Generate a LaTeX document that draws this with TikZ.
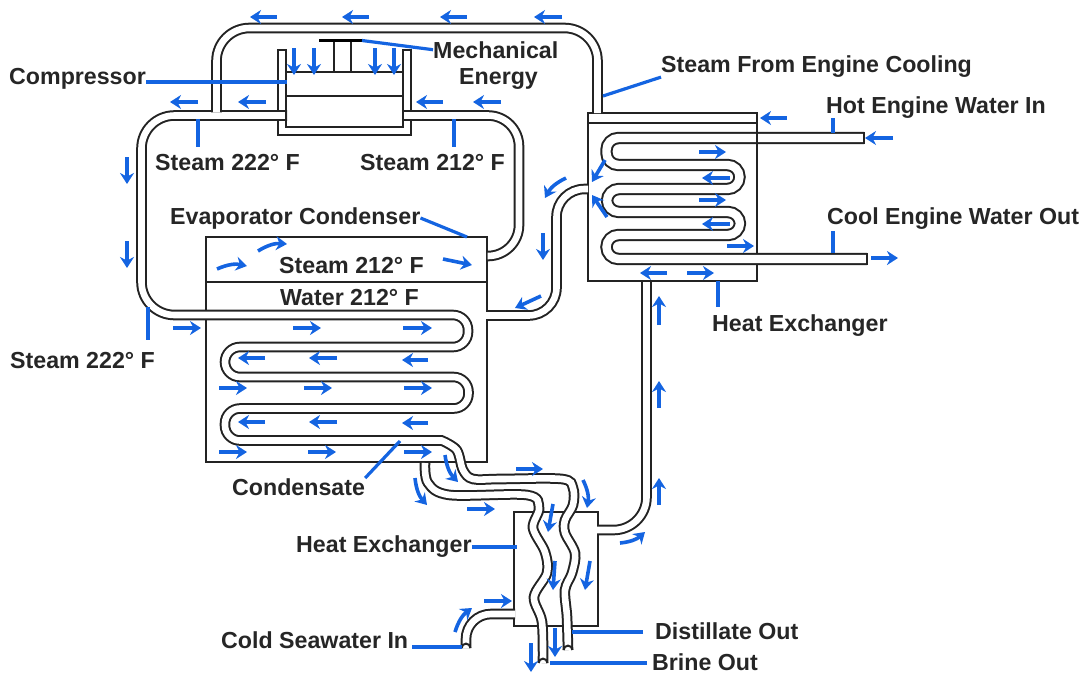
\documentclass[tikz,border=0pt]{standalone}
\usepackage{fontspec}
\setmainfont{Liberation Sans}
\usetikzlibrary{arrows.meta,positioning,calc}
\definecolor{flowblue}{RGB}{20,100,225}
\definecolor{wallgray}{RGB}{35,35,35}
\definecolor{textgray}{RGB}{38,38,38}
\tikzset{
  wall/.style={draw=wallgray,line width=2pt},
  pipe/.style={draw=wallgray,line width=2pt,double=white,double distance=6.6pt},
  coilpipe/.style={draw=wallgray,line width=2pt,double=white,double distance=8.4pt},
  flow/.style={draw=flowblue,line width=3.6pt,-{Stealth[length=11pt,width=14pt]}},
  leader/.style={draw=flowblue,line width=3.2pt},
  partname/.style={font=\fontsize{23.2}{26}\selectfont\bfseries,text=textgray,inner sep=0pt,anchor=base west}
}
\begin{document}
\begin{tikzpicture}[x=1pt,y=-1pt]
\useasboundingbox (0,0) rectangle (1086,673);
\draw[wall] (206,237) rectangle (487,462);
\draw[wall] (206,282)--(487,282);
\draw[wall] (588,113) rectangle (757,281);
\draw[wall] (588,123)--(757,123);
\draw[wall] (514,512) rectangle (598,626);
\draw[wall] (278,135)--(278,50)--(286,50)--(286,127)--(403,127)--(403,50)--(411,50)--(411,135)--cycle;
\draw[wall] (286,71.5)--(403,71.5);
\draw[wall] (334,41)--(334,71.5);
\draw[wall] (351,41)--(351,71.5);
\draw[draw=black,line width=3.2pt] (319,40.5)--(362,40.5);
\draw[pipe] (287,115.5)[rounded corners=33pt]--(141.5,115.5)--(141.5,315)--(300,315)[rounded corners=15pt]--(468,315)--(468,347)--(225,347)--(225,377)--(468.5,377)--(468.5,408.5)--(225,408.5)--(225,440.5)--(420,440.5)[sharp corners]--plot[smooth,tension=.55] coordinates {(441.7,440.5)(456.7,450)(463,470)(473,479)(500,479)(562,479)(573,488)(573,505)(565,520)(565,533)(575,553)(572,573)(565,590)(567,617)(568,650)};
\draw[wall] (563.6,650) arc (180:360:4.4);
\draw[pipe] (402,115.5)[rounded corners=31pt]--(519,115.5)--(519,256)--(487.5,256);
\draw[pipe] (216.5,112.4)[rounded corners=33pt]--(216.5,28)--(597.5,28)--(597.5,113);
\draw[pipe] (486,315.5)[rounded corners=28pt]--(556.5,315.5)--(556.5,189)--(588,189);
\draw[pipe] (646.5,282)[rounded corners=33pt]--(646.5,530)--(597,530);
\draw[pipe] plot[smooth,tension=.55] coordinates {(425,463)(428,483)(450,495)(527,495)(539,508)(533,528)(545,552)(547,573)(534,597)(542,622)(543,663)};
\draw[wall] (538.6,663) arc (180:360:4.4);
\draw[pipe] (515,614)[rounded corners=25pt]--(466,614)--(466,648);
\draw[wall] (461.6,648) arc (180:360:4.4);
\draw[coilpipe] (864,138)[rounded corners=12pt]--(606.5,138)--(606.5,165)--(739.5,165)--(739.5,189)--(607,189)--(607,212)--(740,212)--(740,235)--(606.5,235)--(606.5,259)--(867,259);
\draw[wall] (864,132)--(864,144);
\draw[wall] (867,253)--(867,265);
\draw[wall] (757,131)--(757,145);
\draw[wall] (286,96) rectangle (403,127);

\node[partname] (mechanical) at (433,58) {Mechanical};
\node[partname] (energy) at (459,84) {Energy};
\node[partname] (compressor) at (9,84) {Compressor};
\node[partname] (steamhot) at (155,170) {Steam 222° F};
\node[partname] (steamcool) at (360,170) {Steam 212° F};
\node[partname] (enginecool) at (661,72) {Steam From Engine Cooling};
\node[partname] (hotwater) at (826,113) {Hot Engine Water In};
\node[partname] (coolwater) at (827,224) {Cool Engine Water Out};
\node[partname] (evaporator) at (170,224) {Evaporator Condenser};
\node[partname] (steamtank) at (279,273) {Steam 212° F};
\node[partname] (watertank) at (280,305) {Water 212° F};
\node[partname] (steamout) at (10,368) {Steam 222° F};
\node[partname] (hxupper) at (712,331) {Heat Exchanger};
\node[partname] (condensate) at (232,495) {Condensate};
\node[partname] (hxlower) at (296,552) {Heat Exchanger};
\node[partname] (seawater) at (221,648) {Cold Seawater In};
\node[partname] (distillate) at (655,639) {Distillate Out};
\node[partname] (brine) at (652,670) {Brine Out};

\coordinate (pistontop) at (362,40.5);
\coordinate (compin) at (287,82);
\coordinate (hotpt) at (198,119);
\coordinate (coolpt) at (454,119);
\coordinate (pipetop) at (603,96);
\coordinate (hotin) at (833,133);
\coordinate (coolout) at (833,253);
\coordinate (evaptop) at (467,237);
\coordinate (loopleft) at (148,307);
\coordinate (hxbottom) at (718,281);
\coordinate (coilend) at (400,441);
\coordinate (hxwall) at (517,547);
\coordinate (seaend) at (462,647);
\coordinate (distend) at (572,632);
\coordinate (brinend) at (550,663);
\draw[leader] (mechanical.west)--(pistontop);
\draw[leader] (compressor.east |- compin)--(compin);
\draw[leader] ([yshift=7pt]steamhot.north -| hotpt)--(hotpt);
\draw[leader] ([yshift=7pt]steamcool.north -| coolpt)--(coolpt);
\draw[leader] (enginecool.south west)--(pipetop);
\draw[leader] (hotwater.south -| hotin)--(hotin);
\draw[leader] ([yshift=-2pt]coolwater.south -| coolout)--(coolout);
\draw[leader] (evaporator.east)--(evaptop);
\draw[leader] ([yshift=12pt]steamout.north -| loopleft)--(loopleft);
\draw[leader] ([yshift=7pt]hxupper.north -| hxbottom)--(hxbottom);
\draw[leader] (condensate.north east)--(coilend);
\draw[leader] (hxlower.east |- hxwall)--(hxwall);
\draw[leader] ([xshift=4pt]seawater.east |- seaend)--(seaend);
\draw[leader] ([xshift=-12pt]distillate.west |- distend)--(distend);
\draw[leader] ([xshift=-5pt]brine.west |- brinend)--(brinend);

\foreach \xa/\ya/\xb/\yb in {277/17/250/17,369/17/342/17,467/17/440/17,562/17/534/17,
  198/102/170/102,266/102/238/102,443/102/416/102,501/102/473/102,
  787/118/760/118,893/138/865/138,730/178/702/178,730/224/702/224,667/273/640/273,687/273/714/273,
  699/152/726/152,699/200/726/200,727/246/754/246,871/258/898/258,
  173/328/201/328,293/328/321/328,403/328/432/328,265/358/238/358,337/358/309/358,428/360/402/360,
  219/388/247/388,304/388/332/388,404/388/432/388,265/422/238/422,337/422/309/422,428/423/402/423,
  219/452/247/452,308/452/336/452,404/452/432/452,443/259/472/265,
  127/157/127/184,127/241/127/268,294/48/294/75,314/48/314/75,375/48/375/75,394/48/394/75,
  605/160/592/182,607/217/592/195,543/233/543/260,541/296/515/308,
  659/325/659/296,659/408/659/381,659/505/659/478,467/509/495/509,516/469/543/469,484/601/512/601,
  553/504/548/532,555/561/553/590,590/561/585/590,555/628/555/657,531/643/531/672}
  \draw[flow] (\xa,\ya)--(\xb,\yb);
\foreach \xa/\ya/\xb/\yb in {217/269/247/266,258/251/287/244,583/480/587/508,455/632/472/608}
  \draw[flow] (\xa,\ya) to[bend left=18] (\xb,\yb);
\foreach \xa/\ya/\xb/\yb in {566/178/545/198,445/455/458/482,415/478/427/505,620/543/645/532}
  \draw[flow] (\xa,\ya) to[bend right=18] (\xb,\yb);
\end{tikzpicture}
\end{document}
